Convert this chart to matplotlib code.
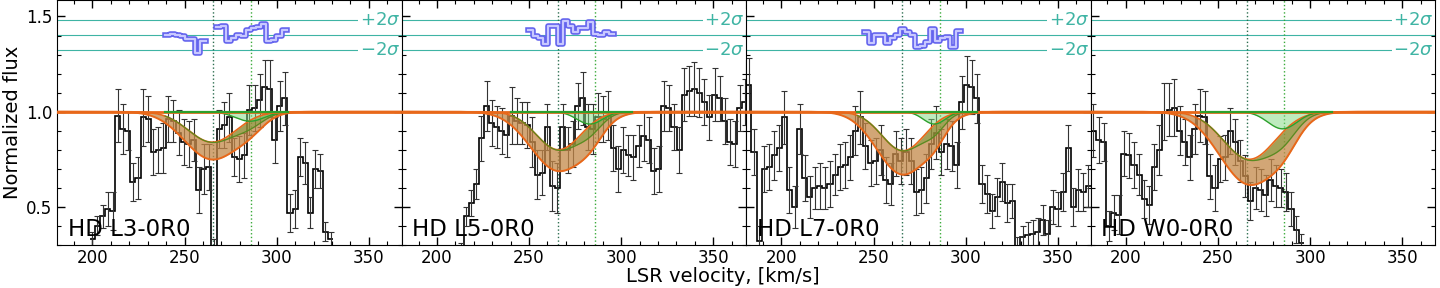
import numpy as np
import matplotlib.pyplot as plt
from matplotlib.ticker import MultipleLocator

# --- values ---
labels = ['HD L3-0R0', 'HD L5-0R0', 'HD L7-0R0', 'HD W0-0R0']
bin_width = 2.75          # km/s, spectrum pixel
v_start = [198.6, 211.8, 181.0, 181.0]

flux_l3 = [0.33, 0.40, 0.45, 0.49, 0.48, 0.98, 0.91, 0.90, 0.63, 0.65,
           0.97, 0.96, 0.79, 0.80, 0.81, 0.96, 0.95, 0.89, 0.84, 0.83,
           0.85, 0.59, 0.70, 0.71, 0.25, 0.91, 0.93, 0.97, 0.76, 0.75,
           0.77, 1.01, 1.02, 1.06, 1.13, 1.12, 0.85, 1.03, 1.07, 0.47,
           0.49, 0.76, 0.73, 0.47, 0.70, 0.69, 0.37, 0.33]
err_l3 = [0.04, 0.05, 0.06, 0.09, 0.10, 0.14, 0.13, 0.10, 0.10, 0.11,
          0.15, 0.12, 0.12, 0.12, 0.13, 0.12, 0.11, 0.12, 0.12, 0.12,
          0.11, 0.12, 0.13, 0.12, 0.08, 0.10, 0.12, 0.13, 0.10, 0.12,
          0.12, 0.13, 0.12, 0.14, 0.14, 0.15, 0.12, 0.13, 0.14, 0.10,
          0.10, 0.10, 0.11, 0.08, 0.10, 0.09, 0.05, 0.04]

flux_l5 = [0.28, 0.45, 0.52, 0.62, 0.86, 1.03, 0.94, 0.92, 0.90, 0.88,
           0.98, 0.95, 0.94, 0.93, 0.84, 0.67, 0.68, 0.92, 0.61, 0.60,
           0.92, 0.80, 0.83, 1.03, 1.07, 0.92, 0.91, 0.97, 0.96, 0.98,
           0.81, 0.70, 0.80, 0.77, 0.76, 0.82, 0.87, 0.85, 0.69, 0.70,
           1.03, 1.02, 0.92, 0.80, 1.09, 1.11, 1.12, 1.10, 1.05, 0.97,
           1.09, 1.07, 0.95, 0.84, 0.83, 1.02, 1.05]
err_l5 = [0.03, 0.05, 0.07, 0.08, 0.12, 0.13, 0.12, 0.11, 0.12, 0.12,
          0.15, 0.12, 0.11, 0.12, 0.13, 0.13, 0.12, 0.12, 0.13, 0.13,
          0.12, 0.12, 0.12, 0.12, 0.14, 0.12, 0.13, 0.13, 0.12, 0.13,
          0.12, 0.12, 0.12, 0.11, 0.12, 0.11, 0.13, 0.12, 0.12, 0.12,
          0.13, 0.12, 0.12, 0.12, 0.14, 0.13, 0.14, 0.13, 0.12, 0.12,
          0.14, 0.12, 0.12, 0.12, 0.12, 0.12, 0.12]

flux_l7 = [1.14, 0.79, 0.32, 0.70, 0.71, 0.77, 0.81, 0.97, 0.59, 0.50,
           0.91, 0.65, 0.55, 0.60, 0.61, 0.60, 0.62, 0.67, 0.71, 0.72,
           0.76, 0.90, 0.97, 0.82, 0.73, 0.74, 0.80, 0.64, 0.62, 0.78,
           0.74, 0.79, 0.74, 0.58, 0.59, 0.65, 0.83, 0.89, 0.79, 0.83,
           0.82, 0.72, 1.05, 1.14, 1.13, 1.07, 0.62, 0.57, 0.48, 0.55,
           0.63, 0.52, 0.53, 0.28, 0.34, 0.35, 0.36, 0.37, 0.43, 0.36,
           0.50, 0.49, 0.58, 0.81, 0.50, 0.59, 0.58, 0.61]
err_l7 = [0.14, 0.12, 0.08, 0.12, 0.12, 0.13, 0.12, 0.14, 0.12, 0.11,
          0.13, 0.12, 0.11, 0.11, 0.12, 0.11, 0.12, 0.11, 0.12, 0.12,
          0.12, 0.13, 0.14, 0.12, 0.12, 0.12, 0.13, 0.12, 0.11, 0.12,
          0.12, 0.12, 0.12, 0.12, 0.12, 0.13, 0.13, 0.14, 0.12, 0.13,
          0.13, 0.12, 0.14, 0.15, 0.14, 0.13, 0.10, 0.10, 0.09, 0.10,
          0.10, 0.10, 0.09, 0.06, 0.06, 0.07, 0.07, 0.07, 0.08, 0.07,
          0.09, 0.09, 0.10, 0.12, 0.10, 0.11, 0.10, 0.11]

flux_w0 = [0.90, 0.85, 0.84, 0.40, 0.47, 0.46, 0.78, 0.77, 0.72, 0.67,
           0.54, 0.51, 0.71, 0.80, 1.00, 1.01, 1.02, 0.90, 0.84, 0.76,
           0.91, 0.98, 0.97, 0.66, 0.60, 0.75, 0.76, 0.90, 0.84, 0.74,
           0.66, 0.53, 0.60, 0.59, 0.56, 0.64, 0.61, 0.60, 0.58, 0.49,
           0.38, 0.31]
err_w0 = [0.14, 0.12, 0.10, 0.08, 0.09, 0.10, 0.12, 0.12, 0.12, 0.11,
          0.10, 0.10, 0.12, 0.13, 0.15, 0.14, 0.15, 0.13, 0.12, 0.12,
          0.13, 0.14, 0.14, 0.12, 0.12, 0.12, 0.12, 0.12, 0.12, 0.11,
          0.11, 0.10, 0.11, 0.11, 0.11, 0.11, 0.11, 0.10, 0.10, 0.09,
          0.07, 0.05]

fluxes = [flux_l3, flux_l5, flux_l7, flux_w0]
errors = [err_l3, err_l5, err_l7, err_w0]

# normalized residuals (in sigma), drawn in the top strip
nan = np.nan
resid_start = [239.4, 249.2, 245.0, 0.0]
resid_l3 = [0.0, 0.1, -0.1, -0.25, -0.6, -0.6, -2.4, -0.9, nan, nan, 1.0, 1.1,
            -0.9, -0.4, -0.1, -0.25, 0.6, 0.9, 1.0, 1.4, -0.9, -0.75, -0.25, 0.6]
resid_l5 = [0.6, -0.25, -0.4, -1.3, 1.2, 1.2, -1.25, 1.8, 1.2, 0.3, 0.9, 0.9,
            1.65, 0.1, 0.0, 0.3, 0.1]
resid_l7 = [0.3, -1.15, 0.0, 0.0, -1.15, -0.45, 0.0, 0.75, 0.3, 0.0, -1.7,
            -1.5, -1.0, 0.75, -0.8, -0.45, -0.3, -1.7, 0.45]
resid_w0 = []
residuals = [resid_l3, resid_l5, resid_l7, resid_w0]

# two-component absorption fit, upper/lower envelope of component 1
comp1_center = [265.0, 266.0, 266.0, 267.0]
comp1_depth_hi = [0.16, 0.20, 0.205, 0.25]
comp1_sigma_hi = [13.0, 12.0, 11.5, 14.0]
comp1_depth_lo = [0.25, 0.31, 0.33, 0.38]
comp1_sigma_lo = [15.0, 15.0, 14.0, 16.0]
comp2_center = [285.5, 283.0, 283.0, 285.0]
comp2_depth = [0.05, 0.065, 0.065, 0.09]
comp2_sigma = [8.0, 7.0, 6.0, 8.0]
comp2_window = [(239.4, 306.0), (240.0, 306.0), (241.0, 306.0), (240.5, 312.0)]

v_lines = [265.7, 286.0]

# --- styling ---
teal = '#3fb4a4'
orange = '#e8681a'
resid_zero = 1.405
resid_unit = 0.0395   # flux units per sigma in the residual strip

fig = plt.figure(figsize=(14.4, 2.88), dpi=100)
axes = fig.subplots(1, 4, sharey=True)
fig.subplots_adjust(left=0.0399, right=0.9968, bottom=0.1493, top=0.999, wspace=0)


def gauss(v, depth, c, s):
    return depth * np.exp(-0.5 * ((v - c) / s) ** 2)


for i, ax in enumerate(axes):
    flux = np.array(fluxes[i])
    err = np.array(errors[i])
    edges = v_start[i] + bin_width * np.arange(len(flux) + 1)
    centers = 0.5 * (edges[:-1] + edges[1:])

    # sigma strip
    for lev in (-2, 0, 2):
        ax.axhline(resid_zero + lev * resid_unit, color=teal, lw=0.8, zorder=1)
    ax.text(0.995, resid_zero + 2 * resid_unit, r'$+2\sigma$', transform=ax.get_yaxis_transform(),
            ha='right', va='center', fontsize=13, color=teal, zorder=8,
            bbox=dict(fc='white', ec='none', pad=1.0))
    ax.text(0.995, resid_zero - 2 * resid_unit, r'$-2\sigma$', transform=ax.get_yaxis_transform(),
            ha='right', va='center', fontsize=13, color=teal, zorder=8,
            bbox=dict(fc='white', ec='none', pad=1.0))

    ax.axvline(v_lines[0], color='#2d6e50', ls=':', lw=1.0, zorder=1.5)
    ax.axvline(v_lines[1], color='#3aaa3a', ls=':', lw=1.0, zorder=1.5)

    # data
    ax.stairs(flux, edges, baseline=None, color='black', lw=1.2, zorder=2)
    ax.errorbar(centers, flux, yerr=err, fmt='none', ecolor='#333333',
                elinewidth=0.8, capsize=2, capthick=0.8, zorder=2)

    # model
    v = np.linspace(181, 368, 800)
    c1u = 1 - gauss(v, comp1_depth_hi[i], comp1_center[i], comp1_sigma_hi[i])
    c1l = 1 - gauss(v, comp1_depth_lo[i], comp1_center[i], comp1_sigma_lo[i])
    c2 = 1 - gauss(v, comp2_depth[i], comp2_center[i], comp2_sigma[i])
    tu = c1u * c2
    tl = c1l * c2
    ax.fill_between(v, tl, c1u, color='#c48848', alpha=0.75, lw=0, zorder=3)
    ax.fill_between(v, tu, c1u, color='#4e9a22', alpha=0.35, lw=0, zorder=4)
    w = (v >= comp2_window[i][0]) & (v <= comp2_window[i][1])
    ax.fill_between(v[w], c2[w], 1.0, color='#7ed87e', alpha=0.5, lw=0, zorder=4)
    ax.plot(v, c1u, color=orange, lw=1.2, zorder=5)
    ax.plot(v, tl, color=orange, lw=1.4, zorder=5)
    ax.plot(v[w], tu[w], color='#5a8a20', lw=0.9, zorder=5)
    ax.plot(v[w], c2[w], color='#2ca02c', lw=1.0, zorder=5)
    ax.axhline(1.0, color=orange, lw=2.0, zorder=6)
    ax.plot(v[w], np.ones(w.sum()), color='#2ca02c', lw=1.6, zorder=7)

    # residuals
    res = residuals[i]
    if len(res):
        r_edges = resid_start[i] + bin_width * np.arange(len(res) + 1)
        r_y = resid_zero + resid_unit * np.append(res, res[-1])
        ax.plot(r_edges, r_y, drawstyle='steps-post', color='#6464ee', lw=4.0, zorder=6)
        ax.plot(r_edges, r_y, drawstyle='steps-post', color='#c8c8ff', lw=1.6, zorder=6)

    ax.text(0.03, 0.035, labels[i], transform=ax.transAxes, fontsize=16.5,
            ha='left', va='baseline', zorder=9)

    ax.set_xlim(181, 368)
    ax.set_ylim(0.3, 1.585)
    ax.set_xticks([200, 250, 300, 350])
    ax.xaxis.set_minor_locator(MultipleLocator(10))
    ax.set_yticks([0.5, 1.0, 1.5])
    ax.yaxis.set_minor_locator(MultipleLocator(0.1))
    ax.tick_params(which='both', direction='in', top=True, right=True, labelsize=12)
    ax.tick_params(axis='x', which='major', pad=3)
    ax.tick_params(which='major', length=6, width=1)
    ax.tick_params(which='minor', length=3, width=0.8)

fig.text(0.502, 0.008, 'LSR velocity, [km/s]', ha='center', va='bottom', fontsize=14)
fig.text(0.009, 0.575, 'Normalized flux', ha='center', va='center', rotation=90, fontsize=14)

fig.savefig('out.png', dpi=100)
